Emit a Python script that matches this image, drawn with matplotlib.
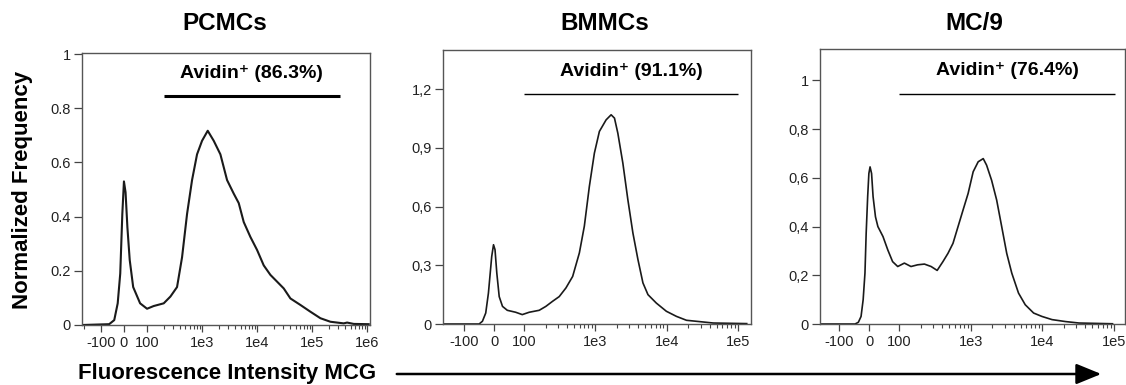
import numpy as np
import matplotlib
matplotlib.use('Agg')
import matplotlib.pyplot as plt

plt.rcParams['font.family'] = ['Liberation Sans', 'DejaVu Sans']

# histogram traces (x = fluorescence, y = normalized freq)
pcmc_x = [-220, -64, -42, -27, -16, -7, 0, 7, 15, 25, 40, 70, 100, 132, 201, 266,
          351, 433, 534, 658, 811, 1000, 1268, 1630, 2154, 2848, 3764, 4642, 5724,
          7565, 10000, 13220, 17470, 23100, 30540, 40370, 61360, 93260, 141800,
          215400, 376400, 432900, 572200, 1070000]
pcmc_y = [0, 0.003, 0.018, 0.08, 0.19, 0.41, 0.53, 0.49, 0.36, 0.24, 0.14, 0.08,
          0.06, 0.07, 0.08, 0.105, 0.14, 0.25, 0.41, 0.535, 0.63, 0.68, 0.717, 0.68,
          0.63, 0.535, 0.485, 0.45, 0.38, 0.325, 0.277, 0.22, 0.185, 0.16, 0.135,
          0.098, 0.074, 0.049, 0.025, 0.012, 0.006, 0.009, 0.004, 0.003]

bmmc_x = [-200, -50, -39, -28, -19, -13, -8, -2, 3, 9, 17, 28, 44, 72, 94, 118, 163,
          202, 251, 311, 386, 480, 596, 700, 823, 968, 1138, 1413, 1662, 1852, 2064,
          2427, 2853, 3357, 3947, 4641, 5459, 7147, 9890, 13680, 18920, 29170, 44980,
          132400]
bmmc_y = [0, 0, 0.014, 0.056, 0.158, 0.26, 0.345, 0.405, 0.38, 0.26, 0.14, 0.09,
          0.07, 0.06, 0.048, 0.06, 0.07, 0.09, 0.116, 0.14, 0.184, 0.243, 0.363, 0.5,
          0.703, 0.873, 0.984, 1.043, 1.069, 1.052, 0.975, 0.822, 0.635, 0.465, 0.33,
          0.21, 0.15, 0.107, 0.065, 0.039, 0.019, 0.012, 0.005, 0.002]

mc9_x = [-190, -47, -36, -27, -20, -14, -10, -5, -1, 3, 8, 13, 21, 29, 46, 62, 78,
         95, 118, 146, 181, 225, 279, 339, 408, 480, 564, 664, 780, 918, 1080, 1269,
         1493, 1664, 1955, 2300, 2704, 3180, 3740, 4645, 5770, 7555, 9880, 13670,
         21090, 32500, 95700]
mc9_y = [0, 0, 0.007, 0.031, 0.1, 0.209, 0.372, 0.523, 0.618, 0.645, 0.618, 0.523,
         0.44, 0.4, 0.359, 0.304, 0.256, 0.236, 0.25, 0.236, 0.243, 0.246, 0.236,
         0.22, 0.256, 0.29, 0.331, 0.4, 0.468, 0.536, 0.625, 0.666, 0.679, 0.652,
         0.59, 0.509, 0.4, 0.29, 0.209, 0.127, 0.079, 0.045, 0.031, 0.018, 0.01,
         0.004, 0.001]

titles = ['PCMCs', 'BMMCs', 'MC/9']
pct = ['86.3%', '91.1%', '76.4%']
gate_lo = [200, 100, 100]
gate_hi = [320000, 100000, 105000]
gate_y = [0.845, 1.175, 0.945]

xticks = [[-100, 0, 100, 1e3, 1e4, 1e5, 1e6], [-100, 0, 100, 1e3, 1e4, 1e5],
          [-100, 0, 100, 1e3, 1e4, 1e5]]
xticklabels = [['-100', '0', '100', '1e3', '1e4', '1e5', '1e6'],
               ['-100', '0', '100', '1e3', '1e4', '1e5'],
               ['-100', '0', '100', '1e3', '1e4', '1e5']]
yticks = [[0, 0.2, 0.4, 0.6, 0.8, 1], [0, 0.3, 0.6, 0.9, 1.2],
          [0, 0.2, 0.4, 0.6, 0.8, 1]]
yticklabels = [['0', '0.2', '0.4', '0.6', '0.8', '1'],
               ['0', '0,3', '0,6', '0,9', '1,2'],
               ['0', '0,2', '0,4', '0,6', '0,8', '1']]
xlims = [(-220, 1.13e6), (-198, 1.52e5), (-185, 1.43e5)]
ylims = [(0, 1.004), (0, 1.40), (0, 1.129)]

# biexponential-ish display: linear +-100, log outside
LW = 0.42


def fwd(x):
    x = np.asarray(x, dtype=float)
    a = np.maximum(np.abs(x), 100.0)
    return np.where(x > 100, np.log10(a),
                    np.where(x < -100, 2 - 2 * LW - np.log10(a / 100),
                             2 - LW + LW * x / 100))


def inv(p):
    p = np.clip(np.asarray(p, dtype=float), -10, 10)
    return np.where(p > 2, 10 ** p,
                    np.where(p < 2 - 2 * LW, -100 * 10 ** (2 - 2 * LW - p),
                             (p - 2 + LW) * 100 / LW))


W, H = 1126, 385
fig = plt.figure(figsize=(W / 100, H / 100), dpi=100)

# axes boxes in pixels: left, right, top, bottom
boxes = [(82, 370, 53, 325), (443, 751, 50, 324), (820, 1125, 49, 324)]
title_x = [225, 605, 974]
series = [(pcmc_x, pcmc_y), (bmmc_x, bmmc_y), (mc9_x, mc9_y)]
curve_lw = [1.5, 1.2, 1.2]
gate_lw = [2.2, 1.0, 1.0]

for i in range(3):
    l, r, t, b = boxes[i]
    ax = fig.add_axes([l / W, 1 - b / H, (r - l) / W, (b - t) / H])
    ax.set_xscale('function', functions=(fwd, inv))
    xs, ys = series[i]
    ax.plot(xs, ys, color='#1a1a1a', lw=curve_lw[i])
    ax.set_xlim(*xlims[i])
    ax.set_ylim(*ylims[i])
    ax.set_xticks(xticks[i], xticklabels[i])
    minors = [k * 10 ** d for d in range(2, 7) for k in range(2, 10)] + [-200]
    minors = [m for m in minors if xlims[i][0] <= m <= xlims[i][1]]
    ax.set_xticks(minors, minor=True)
    ax.set_yticks(yticks[i], yticklabels[i])
    ax.tick_params(axis='x', which='major', length=5, width=0.9, colors='#444',
                   labelcolor='#222', labelsize=10.5, pad=3)
    ax.tick_params(axis='x', which='minor', length=3, width=0.8, colors='#444')
    ax.tick_params(axis='y', length=6, width=0.9, colors='#444', labelcolor='#222',
                   labelsize=10.5, pad=2)
    for s in ax.spines.values():
        s.set_color('#555')
        s.set_linewidth(1.0)

    # gate bar + label
    ax.plot([gate_lo[i], gate_hi[i]], [gate_y[i], gate_y[i]], color='black',
            lw=gate_lw[i], solid_capstyle='butt')
    mid = float(inv((fwd(gate_lo[i]) + fwd(gate_hi[i])) / 2))
    ax.annotate('Avidin\u207a (' + pct[i] + ')', xy=(mid, gate_y[i]),
                xytext=(0, 16.5), textcoords='offset points', ha='center',
                va='center', fontsize=14, fontweight='bold')

    fig.text(title_x[i] / W, 1 - 23 / H, titles[i], ha='center', va='center',
             fontsize=17.5, fontweight='bold')

fig.text(23 / W, 1 - 190 / H, 'Normalized Frequency', rotation=90, ha='center',
         va='center', fontsize=16, fontweight='bold')
fig.text(78 / W, 1 - 374 / H, 'Fluorescence Intensity MCG', ha='left',
         va='center', fontsize=16, fontweight='bold')
fig.add_artist(matplotlib.patches.FancyArrowPatch(
    (394 / W, 1 - 374 / H), (1104 / W, 1 - 374 / H), transform=fig.transFigure,
    arrowstyle='-|>,head_length=1.1,head_width=0.45', mutation_scale=14,
    color='black', lw=1.8))

fig.savefig('out.png', dpi=100)
